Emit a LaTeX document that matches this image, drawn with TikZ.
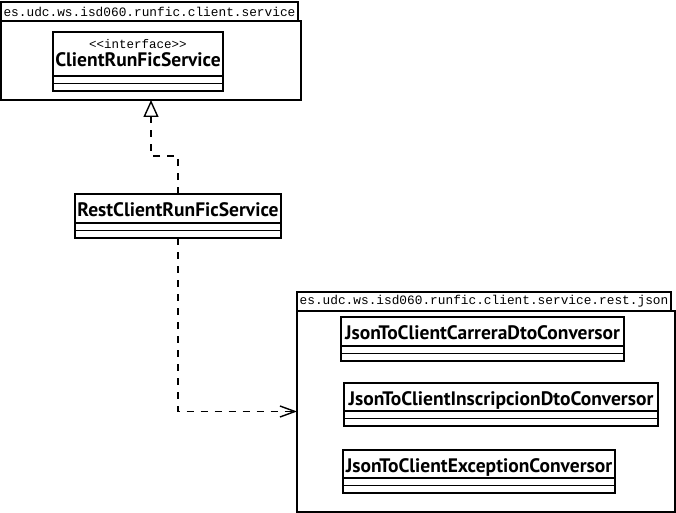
\documentclass[tikz,border=0pt]{standalone}
\usepackage{fontspec}
\setmainfont{PT Sans}
\setmonofont{Liberation Mono}
\usetikzlibrary{arrows.meta,calc}
\tikzset{
  cls/.style    ={draw,line width=1.6pt,inner sep=0pt,outer sep=0pt,anchor=north west,
                  font=\fontsize{19.5}{22}\selectfont\bfseries,text height=22pt,text depth=22pt},
  pkgtab/.style ={draw,line width=1.6pt,inner sep=0pt,outer sep=0pt,anchor=north west,
                  font=\ttfamily\fontsize{12.8}{14}\selectfont,minimum height=19pt},
  pkgbody/.style={draw,line width=1.6pt,inner sep=0pt,outer sep=0pt,anchor=north west},
  stereo/.style ={font=\ttfamily\fontsize{12.5}{14}\selectfont,inner sep=0pt},
  realize/.style={line width=1.8pt,dash pattern=on 7pt off 7pt,
                  -{Triangle[open,length=17pt,width=15pt,fill=white,line width=1.4pt]}},
  depend/.style ={line width=1.8pt,dash pattern=on 7pt off 7pt,
                  -{Straight Barb[length=15pt,width=11pt,line width=1.4pt]}},
}
\begin{document}
\begin{tikzpicture}[x=1pt,y=-1pt]
  \useasboundingbox (0,0) rectangle (676,513);
  % package es.udc.ws.isd060.runfic.client.service
  \node[pkgtab,minimum width=297pt] (pkg1tab) at (1,2) {es.udc.ws.isd060.runfic.client.service};
  \node[pkgbody,minimum width=300pt,minimum height=79pt] (pkg1) at (1,21) {};
  \node[cls,minimum width=170pt,text height=35pt,text depth=24pt] (ifc) at (53,32) {ClientRunFicService};
  \node[stereo] (ifcst) at (138,44) {<<interface>>};

  \node[cls,minimum width=206pt] (rest) at (75,194) {RestClientRunFicService};

  % package es.udc.ws.isd060.runfic.client.service.rest.json
  \node[pkgtab,minimum width=374pt] (pkg2tab) at (297,292) {es.udc.ws.isd060.runfic.client.service.rest.json};
  \node[pkgbody,minimum width=378pt,minimum height=201pt] (pkg2) at (297,311) {};
  \node[cls,minimum width=283pt] (carrera) at (341,317) {JsonToClientCarreraDtoConversor};
  \node[cls,minimum width=314pt,text depth=21pt] (inscr) at (344,383) {JsonToClientInscripcionDtoConversor};
  \node[cls,minimum width=272pt,text depth=21pt] (excep) at (343,450) {JsonToClientExceptionConversor};

  \foreach \c in {ifc,rest,carrera,inscr,excep}{
    \draw[line width=1.6pt] ([yshift=7.5pt]\c.south west) -- ([yshift=7.5pt]\c.south east);
    \draw[line width=1.6pt] ([yshift=15pt]\c.south west) -- ([yshift=15pt]\c.south east);
  }

  \coordinate (bend) at (151,156);
  \draw[realize] (rest.north) |- (bend) -- (bend |- pkg1.south);
  \draw[depend] (rest.south) |- (pkg2.west);
\end{tikzpicture}
\end{document}
